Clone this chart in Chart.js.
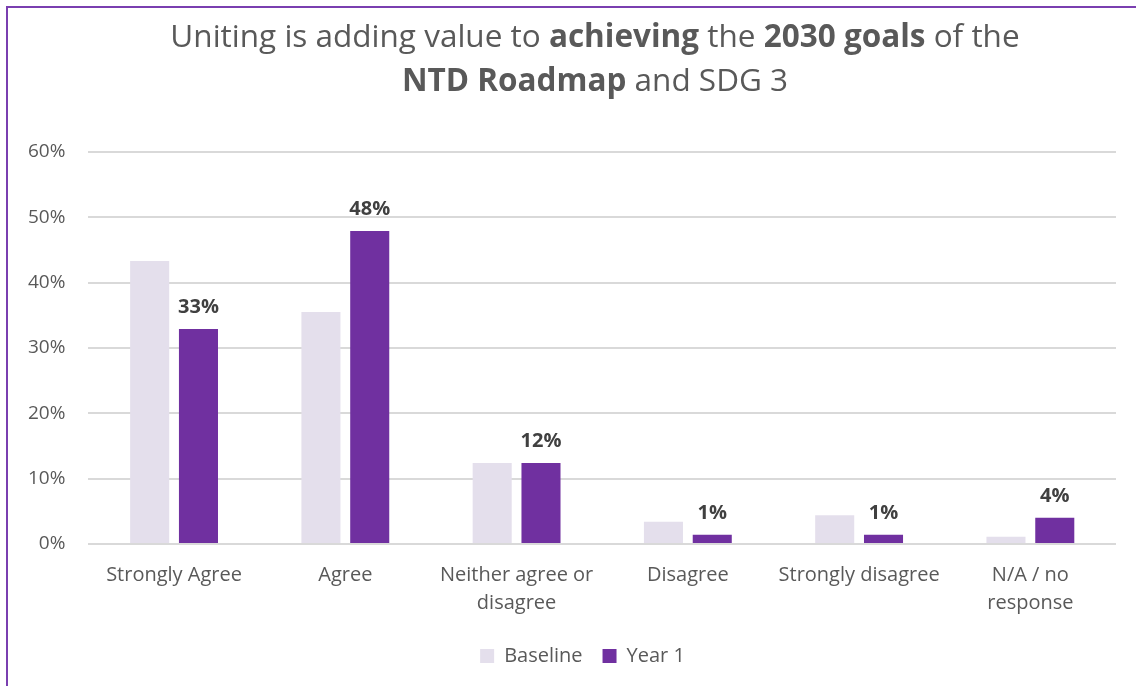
<!DOCTYPE html>
<html>
<head>
<meta charset="utf-8">
<script src="https://cdn.jsdelivr.net/npm/chart.js@4/dist/chart.umd.min.js"></script>
<style>
  html, body { margin: 0; padding: 0; background: #fff; }
  #wrap { position: relative; width: 1136px; height: 686px; overflow: hidden; }
  #frame { position: absolute; left: 6px; top: 6px; width: 1200px; height: 800px;
           border-top: 2px solid #7a3fb0; border-left: 2px solid #7a3fb0; pointer-events: none; }
  canvas { position: absolute; left: 0; top: 0; }
</style>
</head>
<body>
<div id="wrap">
  <canvas id="chart" width="1136" height="686"></canvas>
  <div id="frame"></div>
</div>
<script>
const categories = [
    "Strongly Agree",
    "Agree",
    ["Neither agree or", "disagree"],
    "Disagree",
    "Strongly disagree",
    ["N/A / no", "response"]
];
const baseline = [43.3, 35.5, 12.4, 3.4, 4.4, 1.1];
const year1 = [32.9, 47.9, 12.4, 1.4, 1.4, 4.0];
const yTicks = [0, 10, 20, 30, 40, 50, 60];

const titleLines = [
    [["Uniting is adding value to ", false], ["achieving", true], [" the ", false], ["2030 goals", true], [" of the", false]],
    [["NTD Roadmap", true], [" and SDG 3", false]]
];

const FONT = "'Open Sans', sans-serif";
const textColor = "#595959";

// draws the two-line title with some words in bold
const titlePlugin = {
    id: "richTitle",
    afterDraw(chart) {
        const ctx = chart.ctx;
        ctx.save();
        ctx.fillStyle = textColor;
        ctx.textBaseline = "middle";
        ctx.textAlign = "left";
        const ys = [38, 82];
        titleLines.forEach((line, i) => {
            let total = 0;
            line.forEach(([txt, bold]) => {
                ctx.font = (bold ? "bold " : "") + "31.5px " + FONT;
                total += ctx.measureText(txt).width;
            });
            let x = 595 - total / 2;
            line.forEach(([txt, bold]) => {
                ctx.font = (bold ? "bold " : "") + "31.5px " + FONT;
                ctx.fillText(txt, x, ys[i]);
                x += ctx.measureText(txt).width;
            });
        });
        ctx.restore();
    }
};

// value labels above the Year 1 bars
const valueLabels = {
    id: "valueLabels",
    afterDatasetsDraw(chart) {
        const ctx = chart.ctx;
        const meta = chart.getDatasetMeta(1);
        ctx.save();
        ctx.font = "bold 20px " + FONT;
        ctx.fillStyle = "#404040";
        ctx.textAlign = "center";
        ctx.textBaseline = "alphabetic";
        meta.data.forEach((bar, i) => {
            ctx.fillText(Math.round(year1[i]) + "%", bar.x, bar.y - 16);
        });
        ctx.restore();
    }
};

// legend in the reference sits centred under the plot area, not the canvas
const legendShift = {
    id: "legendShift",
    afterLayout(chart) {
        if (chart.legend) chart.legend.left += 44;
    }
};

new Chart(document.getElementById("chart"), {
    type: "bar",
    data: {
        labels: categories,
        datasets: [
            { label: "Baseline", data: baseline, backgroundColor: "#e4dfec",
              categoryPercentage: 0.57, barPercentage: 0.8 },
            { label: "Year 1", data: year1, backgroundColor: "#7030a0",
              categoryPercentage: 0.57, barPercentage: 0.8 }
        ]
    },
    options: {
        responsive: false,
        animation: false,
        layout: { padding: { top: 152, right: 20, left: 5, bottom: 10 } },
        plugins: {
            legend: {
                position: "bottom",
                labels: {
                    color: textColor,
                    font: { family: FONT, size: 20 },
                    boxWidth: 14, boxHeight: 14, padding: 20
                }
            },
            tooltip: { enabled: false }
        },
        scales: {
            x: {
                grid: { display: false },
                border: { display: false },
                ticks: { color: textColor, font: { family: FONT, size: 20, lineHeight: 1.4 }, padding: 9 }
            },
            y: {
                min: 0, max: 60,
                afterBuildTicks(axis) { axis.ticks = yTicks.map(v => ({ value: v })); },
                grid: { color: "#d9d9d9", lineWidth: 2, drawTicks: false },
                border: { display: false },
                ticks: {
                    color: textColor, font: { family: FONT, size: 19 }, padding: 23,
                    callback: v => v + "%"
                }
            }
        }
    },
    plugins: [titlePlugin, valueLabels, legendShift]
});
</script>
</body>
</html>
